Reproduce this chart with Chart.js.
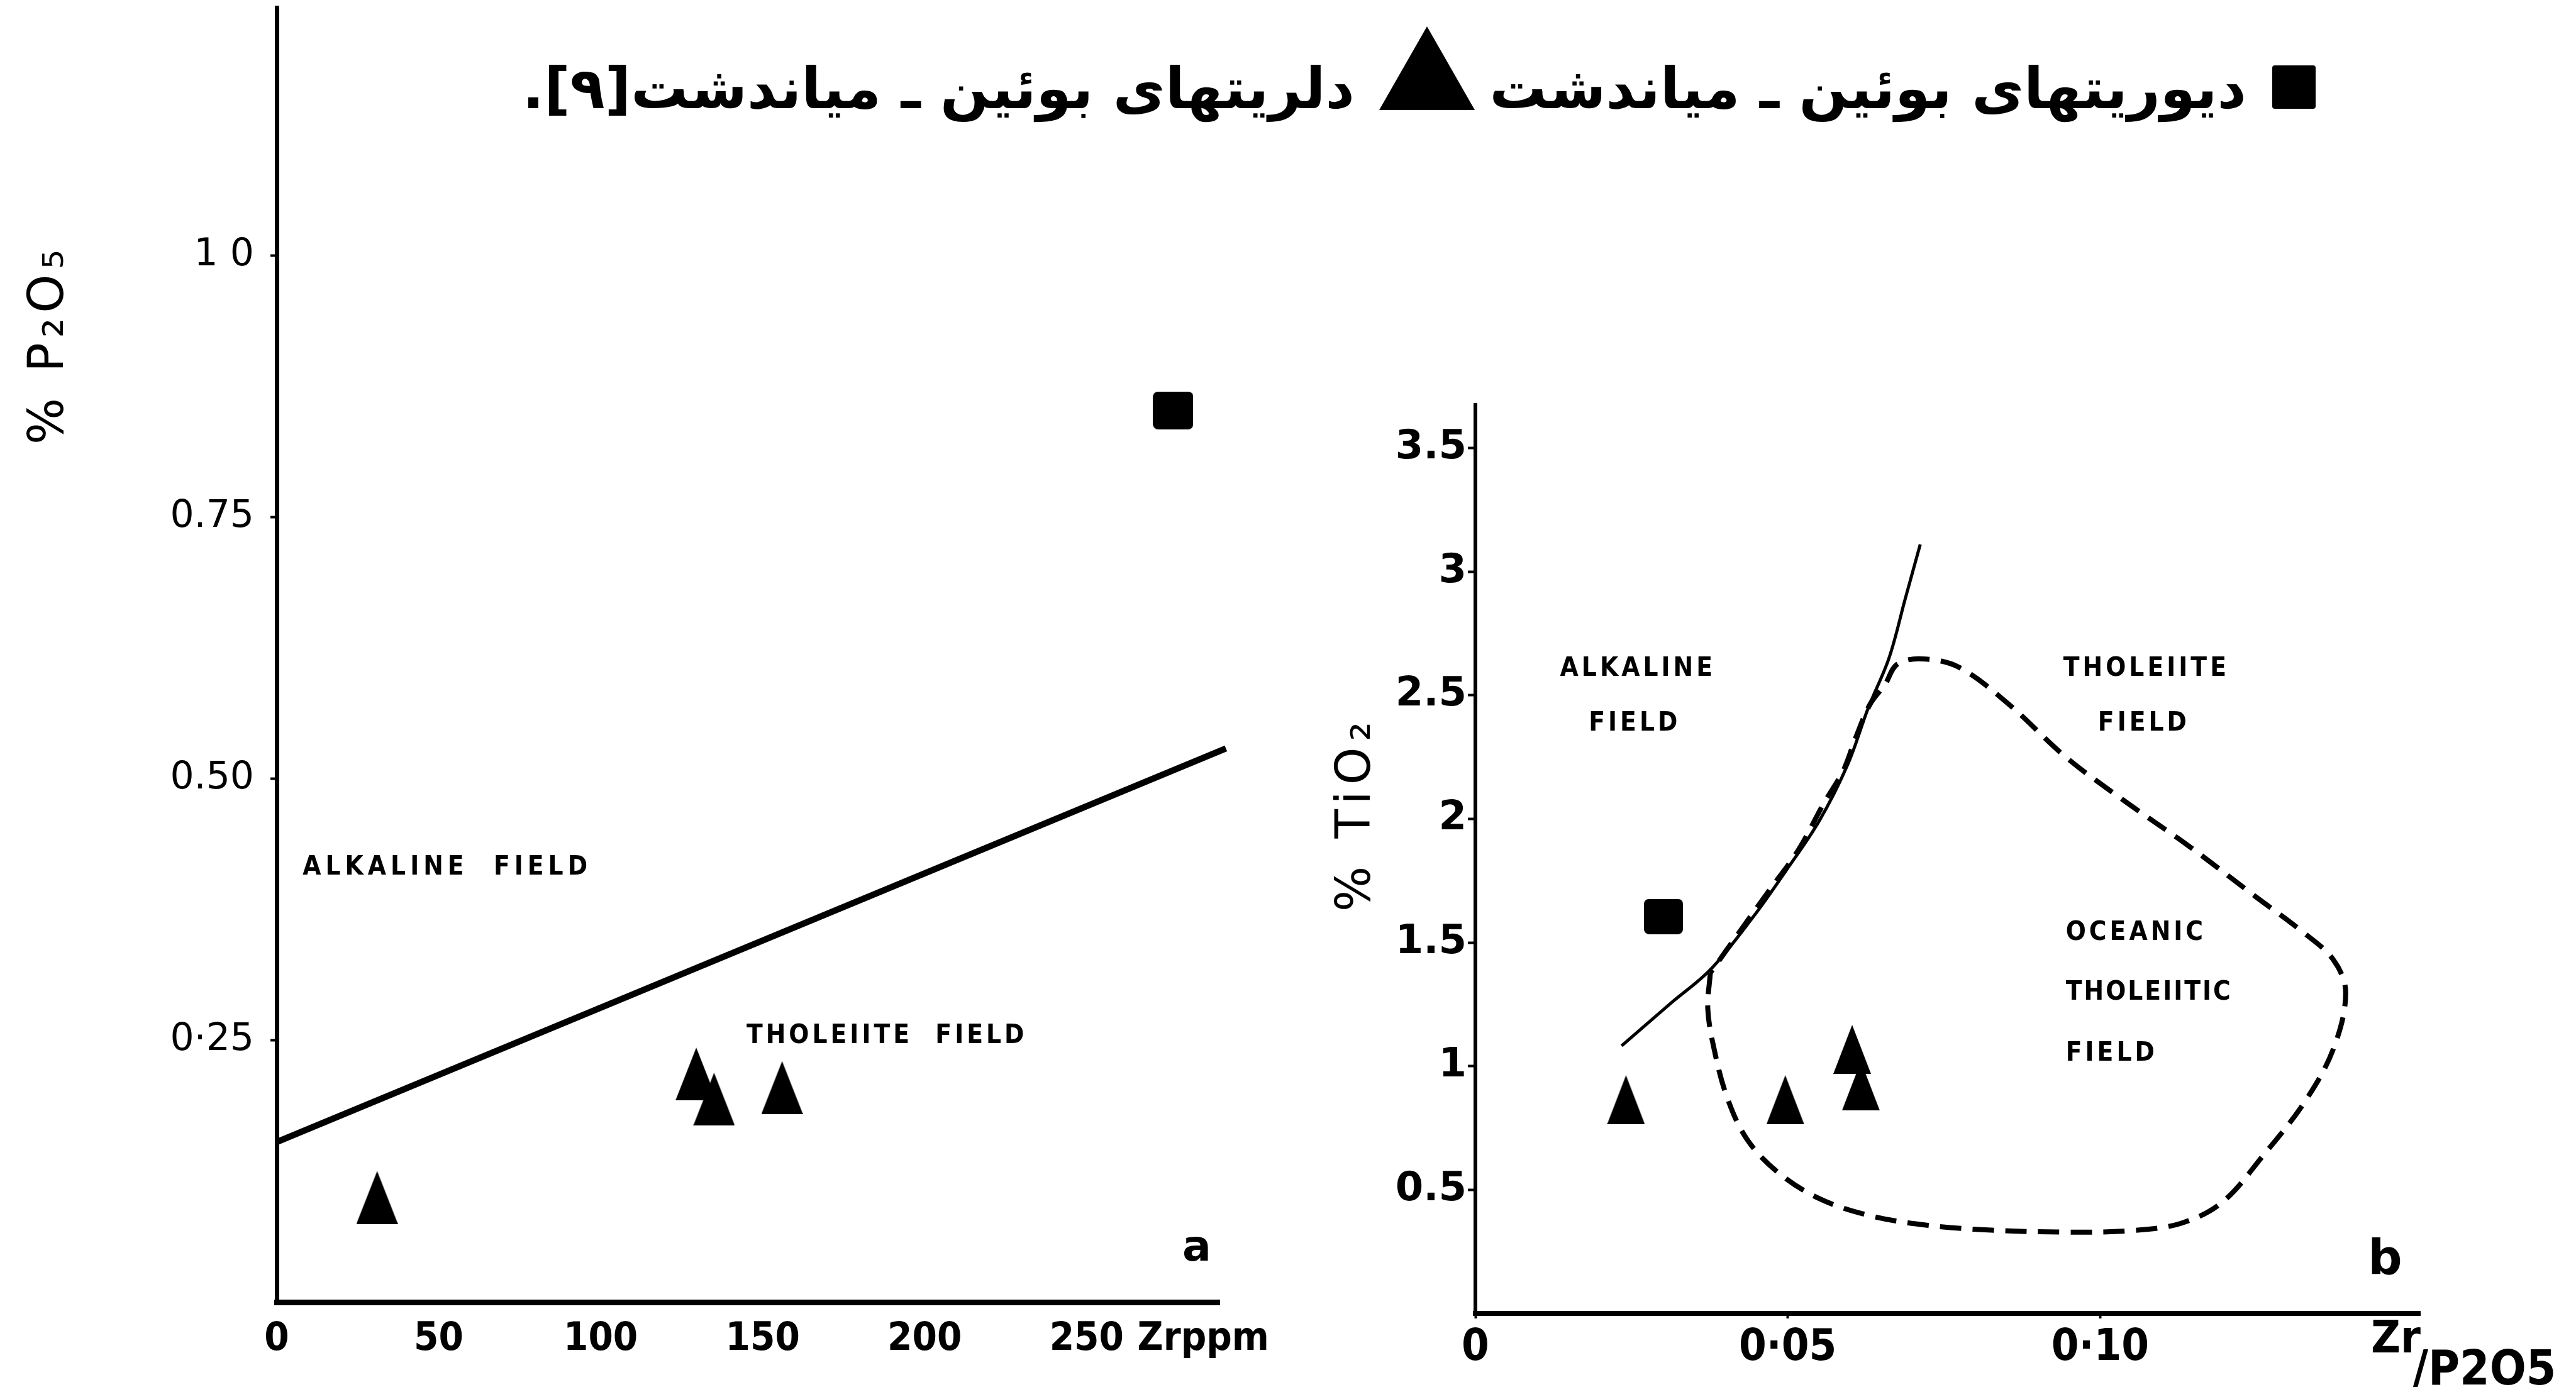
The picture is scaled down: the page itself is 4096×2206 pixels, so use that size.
<!DOCTYPE html>
<html>
<head>
<meta charset="utf-8">
<script src="https://cdn.jsdelivr.net/npm/chart.js@4.4.1/dist/chart.umd.min.js"></script>
<style>
html,body{margin:0;padding:0;background:#fff;overflow:hidden}
#wrap{position:relative;width:4096px;height:2206px;background:#fff}
canvas{position:absolute;left:0;top:0}
</style>
</head>
<body>
<div id="wrap">
<canvas id="ca" width="4096" height="2206" style="width:4096px;height:2206px"></canvas>
<canvas id="cb" width="4096" height="2206" style="width:4096px;height:2206px"></canvas>
</div>
<script>
// ---------------- DATA: chart (a)  P2O5 vs Zr ----------------
const aTriX  = [31, 129.5, 135, 156];          // dolerites (triangles)
const aTriY  = [0.100, 0.218, 0.194, 0.205];
const aSqX   = [276.7];                          // diorites (squares)
const aSqY   = [0.852];
const aLineX = [0, 293];                         // alkaline / tholeiite divide
const aLineY = [0.153, 0.529];
const aXTicks  = [0, 50, 100, 150, 200, 250, 286];
const aXLabels = ['0', '50', '100', '150', '200', '250', 'Zrppm'];
const aYTicks  = [0.25, 0.5, 0.75, 1.0];
const aYLabels = ['0·25', '0.50', '0.75', '1 0'];
const aTexts   = ['ALKALINE  FIELD', 'THOLEIITE  FIELD', 'a'];

// ---------------- DATA: chart (b)  TiO2 vs Zr/P2O5 ----------------
const bTriX = [0.0241, 0.0496, 0.0603, 0.0617];
const bTriY = [0.864, 0.864, 1.068, 0.920];
const bSqX  = [0.0301];
const bSqY  = [1.605];
const bDivX = [0.0234, 0.0313, 0.0376, 0.0445, 0.0497, 0.0550, 0.0596, 0.0629, 0.0662, 0.0688, 0.0712];
const bDivY = [1.082, 1.255, 1.390, 1.605, 1.790, 1.990, 2.220, 2.450, 2.650, 2.890, 3.110];
const bOceanX = [0.0376, 0.0372, 0.0382, 0.0402, 0.0434, 0.0484, 0.0550, 0.0629, 0.0721, 0.0826, 0.0945, 0.1050,
                 0.1130, 0.1196, 0.1261, 0.1327, 0.1373, 0.1393, 0.1373, 0.1320, 0.1248, 0.1143, 0.1037, 0.0945,
                 0.0853, 0.0774, 0.0715, 0.0675, 0.0656, 0.0632, 0.0609, 0.0589, 0.0557, 0.0517, 0.0471, 0.0425, 0.0376];
const bOceanY = [1.377, 1.230, 1.070, 0.880, 0.707, 0.571, 0.465, 0.397, 0.357, 0.337, 0.329, 0.335,
                 0.365, 0.451, 0.639, 0.854, 1.068, 1.297, 1.431, 1.551, 1.687, 1.888, 2.076, 2.250,
                 2.465, 2.613, 2.647, 2.625, 2.545, 2.465, 2.330, 2.196, 2.060, 1.874, 1.713, 1.551, 1.377];
const bXTicks  = [0, 0.05, 0.10];
const bXLabels = ['0', '0·05', '0·10'];
const bYTicks  = [0.5, 1, 1.5, 2, 2.5, 3, 3.5];
const bYLabels = ['0.5', '1', '1.5', '2', '2.5', '3', '3.5'];
const bTexts   = ['ALKALINE', 'FIELD', 'THOLEIITE', 'FIELD', 'OCEANIC', 'THOLEIITIC', 'FIELD', 'b'];

// ---------------- titles ----------------
const titleParts = ['دیوریتهای بوئین ـ میاندشت', 'دلریتهای بوئین ـ میاندشت[۹].'];
const aYTitle = '% P₂O₅';
const bYTitle = '% TiO₂';
const bXTitle = ['Zr', '/P2O5'];

// ---------------- styling helpers ----------------
const F_COND = '"DejaVu Sans Condensed", "Liberation Sans Narrow", "DejaVu Sans", sans-serif';
const F_SANS = '"DejaVu Sans", "Liberation Sans", sans-serif';
const F_AR   = '"DejaVu Sans", "Noto Sans", sans-serif';

function zip(xs, ys) { return xs.map((x, i) => ({x: x, y: ys[i]})); }

function triImage(w, h) {
  const c = document.createElement('canvas');
  c.width = w; c.height = h;
  const g = c.getContext('2d');
  g.fillStyle = '#000';
  g.beginPath(); g.moveTo(0, h); g.lineTo(w / 2, 0); g.lineTo(w, h); g.closePath(); g.fill();
  return c;
}
function sqImage(w, h, r) {
  const c = document.createElement('canvas');
  c.width = w; c.height = h;
  const g = c.getContext('2d');
  g.fillStyle = '#000';
  g.beginPath(); g.roundRect(0, 0, w, h, r); g.fill();
  return c;
}

function fixScale(size, isY) {
  return function (s) {
    if (isY) s.width = size; else s.height = size;
    s.paddingLeft = 0; s.paddingRight = 0; s.paddingTop = 0; s.paddingBottom = 0;
  };
}
function setTicks(list) {
  return function (s) { s.ticks = list.map(v => ({value: v})); };
}

// text annotations (anchored in data units, drawn through the scales)
function textPlugin(id, items) {
  return {
    id: id,
    afterDatasetsDraw(chart) {
      const ctx = chart.ctx, xs = chart.scales.x, ys = chart.scales.y;
      ctx.save();
      ctx.fillStyle = '#000';
      ctx.textBaseline = 'middle';
      items.forEach(it => {
        ctx.font = it.font;
        ctx.textAlign = it.align;
        ctx.letterSpacing = it.spacing || '0px';
        ctx.fillText(it.text, xs.getPixelForValue(it.x), ys.getPixelForValue(it.y));
      });
      ctx.restore();
    }
  };
}

const regionFont = 'bold 42px ' + F_COND;

// ---------------- chart (a) ----------------
const figPlugin = {
  id: 'figTitle',
  afterDraw(chart) {
    const ctx = chart.ctx;
    ctx.save();
    ctx.fillStyle = '#000';
    // legend markers of the caption
    ctx.beginPath(); ctx.roundRect(3613, 104, 69, 69, 4); ctx.fill();
    ctx.beginPath(); ctx.moveTo(2193, 175); ctx.lineTo(2269, 42); ctx.lineTo(2345, 175); ctx.closePath(); ctx.fill();
    // caption text (right to left)
    ctx.direction = 'rtl';
    ctx.textAlign = 'right';
    ctx.textBaseline = 'alphabetic';
    ctx.font = 'bold 100px ' + F_AR;
    const w1 = ctx.measureText(titleParts[0]).width;
    const w2 = ctx.measureText(titleParts[1]).width;
    const size = Math.min(112, 100 * (1172 + 1355) / (w1 + w2));
    ctx.font = 'bold ' + size.toFixed(1) + 'px ' + F_AR;
    ctx.fillText(titleParts[0], 3572, 172);
    ctx.fillText(titleParts[1], 2154, 172);
    ctx.restore();

    // y title of (a)
    ctx.save();
    ctx.fillStyle = '#000';
    ctx.translate(80, 548);
    ctx.rotate(-Math.PI / 2);
    ctx.textAlign = 'center'; ctx.textBaseline = 'middle';
    ctx.letterSpacing = '8px';
    ctx.font = '78px ' + F_SANS;
    ctx.fillText(aYTitle, 0, 0);
    ctx.restore();
  }
};

new Chart(document.getElementById('ca'), {
  type: 'line',
  data: {
    datasets: [
      { data: zip(aLineX, aLineY), borderColor: '#000', borderWidth: 10, pointRadius: 0, clip: false, tension: 0 },
      { data: zip(aTriX, aTriY), showLine: false, pointStyle: triImage(66, 84), pointRadius: 12, borderWidth: 0, backgroundColor: '#000' },
      { data: zip(aSqX, aSqY), showLine: false, pointStyle: sqImage(64, 60, 8), pointRadius: 12, borderWidth: 0, backgroundColor: '#000' }
    ]
  },
  options: {
    responsive: false, animation: false, devicePixelRatio: 1, events: [],
    layout: { padding: { left: 0, top: 0, right: 2157, bottom: 0 } },
    plugins: { legend: { display: false }, tooltip: { enabled: false }, title: { display: false } },
    scales: {
      x: {
        type: 'linear', min: 0, max: 291,
        afterBuildTicks: setTicks(aXTicks), afterFit: fixScale(135, false),
        border: { display: true, color: '#000', width: 9 },
        grid: { display: false },
        ticks: { autoSkip: false, maxRotation: 0, minRotation: 0, padding: 14, color: '#000',
                 font: { family: F_COND, size: 63, weight: 'bold' },
                 callback: (v, i) => aXLabels[i] }
      },
      y: {
        type: 'linear', min: 0, max: 1.237,
        afterBuildTicks: setTicks(aYTicks), afterFit: fixScale(440, true),
        border: { display: true, color: '#000', width: 7 },
        grid: { display: true, drawOnChartArea: false, drawTicks: true, tickLength: 10, tickWidth: 4, color: '#000' },
        ticks: { autoSkip: false, padding: 26, color: '#000',
                 font: { family: F_SANS, size: 60 },
                 callback: (v, i) => aYLabels[i] }
      }
    }
  },
  plugins: [figPlugin, textPlugin('aText', [
    { text: aTexts[0], x: 8, y: 0.415, align: 'left', font: regionFont, spacing: '7px' },
    { text: aTexts[1], x: 145, y: 0.254, align: 'left', font: regionFont, spacing: '5px' },
    { text: aTexts[2], x: 284, y: 0.050, align: 'center', font: 'bold 68px ' + F_SANS }
  ])]
});

// ---------------- chart (b) ----------------
const bExtra = {
  id: 'bExtra',
  afterDraw(chart) {
    const ctx = chart.ctx, xs = chart.scales.x;
    const xr = xs.right;
    ctx.save();
    ctx.fillStyle = '#000';
    ctx.textAlign = 'left'; ctx.textBaseline = 'alphabetic';
    ctx.font = 'bold 72px ' + F_COND;
    ctx.fillText(bXTitle[0], xr - 78, 2151);
    ctx.font = 'bold 76px ' + F_COND;
    ctx.fillText(bXTitle[1], xr - 12, 2202);
    // y title of (b)
    ctx.translate(2158, 1294);
    ctx.rotate(-Math.PI / 2);
    ctx.textAlign = 'center'; ctx.textBaseline = 'middle';
    ctx.letterSpacing = '10px';
    ctx.font = '76px ' + F_SANS;
    ctx.fillText(bYTitle, 0, 0);
    ctx.restore();
  }
};

new Chart(document.getElementById('cb'), {
  type: 'line',
  data: {
    datasets: [
      { data: zip(bDivX, bDivY), borderColor: '#000', borderWidth: 5, pointRadius: 0, tension: 0.35, clip: false },
      { data: zip(bOceanX, bOceanY), borderColor: '#000', borderWidth: 8, borderDash: [34, 18], pointRadius: 0, tension: 0.35, clip: false },
      { data: zip(bTriX, bTriY), showLine: false, pointStyle: triImage(60, 78), pointRadius: 12, borderWidth: 0, backgroundColor: '#000' },
      { data: zip(bSqX, bSqY), showLine: false, pointStyle: sqImage(62, 56, 8), pointRadius: 12, borderWidth: 0, backgroundColor: '#000' }
    ]
  },
  options: {
    responsive: false, animation: false, devicePixelRatio: 1, events: [],
    layout: { padding: { left: 2106, top: 644, right: 248, bottom: 0 } },
    plugins: { legend: { display: false }, tooltip: { enabled: false }, title: { display: false } },
    scales: {
      x: {
        type: 'linear', min: 0, max: 0.1512,
        afterBuildTicks: setTicks(bXTicks), afterFit: fixScale(117, false),
        border: { display: true, color: '#000', width: 8 },
        grid: { display: true, drawOnChartArea: false, drawTicks: true, tickLength: 8, tickWidth: 4, color: '#000' },
        ticks: { autoSkip: false, maxRotation: 0, minRotation: 0, padding: 6, color: '#000',
                 font: { family: F_COND, size: 70, weight: 'bold' },
                 callback: (v, i) => bXLabels[i] }
      },
      y: {
        type: 'linear', min: 0, max: 3.674,
        afterBuildTicks: setTicks(bYTicks), afterFit: fixScale(240, true),
        border: { display: true, color: '#000', width: 6 },
        grid: { display: true, drawOnChartArea: false, drawTicks: true, tickLength: 12, tickWidth: 4, color: '#000' },
        ticks: { autoSkip: false, padding: 2, color: '#000',
                 font: { family: F_SANS, size: 64, weight: 'bold' },
                 callback: (v, i) => bYLabels[i] }
      }
    }
  },
  plugins: [bExtra, textPlugin('bText', [
    { text: bTexts[0], x: 0.0260, y: 2.606, align: 'center', font: regionFont, spacing: '5px' },
    { text: bTexts[1], x: 0.0255, y: 2.385, align: 'center', font: regionFont, spacing: '5px' },
    { text: bTexts[2], x: 0.1074, y: 2.606, align: 'center', font: regionFont, spacing: '5px' },
    { text: bTexts[3], x: 0.1070, y: 2.385, align: 'center', font: regionFont, spacing: '5px' },
    { text: bTexts[4], x: 0.0945, y: 1.538, align: 'left', font: regionFont, spacing: '5px' },
    { text: bTexts[5], x: 0.0945, y: 1.297, align: 'left', font: regionFont, spacing: '3px' },
    { text: bTexts[6], x: 0.0945, y: 1.050, align: 'left', font: regionFont, spacing: '5px' },
    { text: bTexts[7], x: 0.1456, y: 0.210, align: 'center', font: 'bold 76px ' + F_SANS }
  ])]
});
</script>
</body>
</html>
